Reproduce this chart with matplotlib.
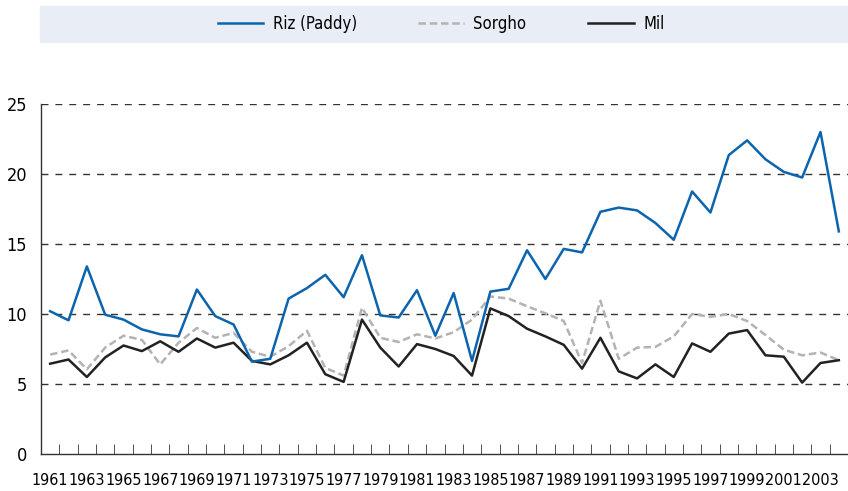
import matplotlib
matplotlib.use("Agg")
import matplotlib.pyplot as plt
from matplotlib.patches import Rectangle
import numpy as np

years = list(range(1961, 2005))

riz = [10.2, 9.55, 13.4, 9.95, 9.6, 8.9, 8.55, 8.4, 11.75, 9.85, 9.25, 6.6, 6.8, 11.1, 11.85,
       12.8, 11.2, 14.2, 9.9, 9.75, 11.7, 8.45, 11.5, 6.65, 11.6, 11.8, 14.55, 12.5, 14.65,
       14.4, 17.3, 17.6, 17.4, 16.5, 15.3, 18.75, 17.25, 21.35, 22.4, 21.05, 20.15, 19.75, 23.0, 15.9]
sorgho = [7.1, 7.4, 6.05, 7.6, 8.45, 8.15, 6.4, 7.95, 9.0, 8.3, 8.65, 7.3, 6.95, 7.7, 8.8,
          6.15, 5.6, 10.45, 8.3, 8.0, 8.55, 8.25, 8.7, 9.6, 11.25, 11.1, 10.55, 10.05, 9.5,
          6.5, 10.95, 6.8, 7.6, 7.65, 8.4, 10.0, 9.8, 10.0, 9.5, 8.5, 7.45, 7.05, 7.25, 6.7]
mil = [6.45, 6.75, 5.5, 6.9, 7.75, 7.35, 8.05, 7.3, 8.25, 7.6, 7.95, 6.65, 6.4, 7.05, 7.95,
       5.7, 5.15, 9.6, 7.6, 6.25, 7.85, 7.5, 7.0, 5.6, 10.4, 9.85, 8.95, 8.4, 7.8,
       6.1, 8.3, 5.9, 5.4, 6.4, 5.5, 7.9, 7.3, 8.6, 8.85, 7.05, 6.95, 5.1, 6.5, 6.7]

labels = ["Riz (Paddy)", "Sorgho", "Mil"]
yticks = [0, 5, 10, 15, 20, 25]

# condensed DejaVu is closest to the narrow font of the original
plt.rcParams['font.family'] = ['DejaVu Sans']
plt.rcParams['font.stretch'] = 'condensed'

fig = plt.figure(figsize=(8.48, 4.91), dpi=100)
ax = fig.add_axes([41 / 848, 37 / 491, 807 / 848, 350 / 491])

# legend band
fig.patches.append(Rectangle((40 / 848, 449 / 491), 808 / 848, 36 / 491,
                             transform=fig.transFigure, color='#e9edf6', zorder=0))

x = np.arange(len(years))
for val in yticks[1:]:
    ax.axhline(val, color='#333333', lw=1, ls=(0, (5, 5)), zorder=1)

l1, = ax.plot(x, riz, color='#0b64ad', lw=1.8, zorder=3)
l2, = ax.plot(x, sorgho, color='#b3b3b3', lw=1.8, ls=(0, (3, 1.5)), zorder=2)
l3, = ax.plot(x, mil, color='#222222', lw=1.8, zorder=2)

ax.set_xlim(-0.5, len(years) - 0.5)
ax.set_ylim(0, 25)
ax.set_yticks(yticks)
ax.set_yticklabels([str(v) for v in yticks], fontsize=13)
ax.tick_params(axis='y', length=0, pad=10)

ax.set_xticks(x[::2])
ax.set_xticklabels([str(y) for y in years[::2]], fontsize=11.5)
ax.set_xticks(np.arange(len(years) + 1) - 0.5, minor=True)
ax.tick_params(axis='x', which='major', length=0, pad=14)
ax.tick_params(axis='x', which='minor', length=7, direction='in', color='#333333')

for side in ['top', 'right']:
    ax.spines[side].set_visible(False)
for side in ['left', 'bottom']:
    ax.spines[side].set_color('#333333')
    ax.spines[side].set_linewidth(1)

fig.legend([l1, l2, l3], labels, loc='center', bbox_to_anchor=(441 / 848, 467 / 491),
           ncol=3, frameon=False, fontsize=12, handlelength=2.75, handletextpad=0.55,
           columnspacing=3.7)

fig.savefig("out.png", dpi=100)
